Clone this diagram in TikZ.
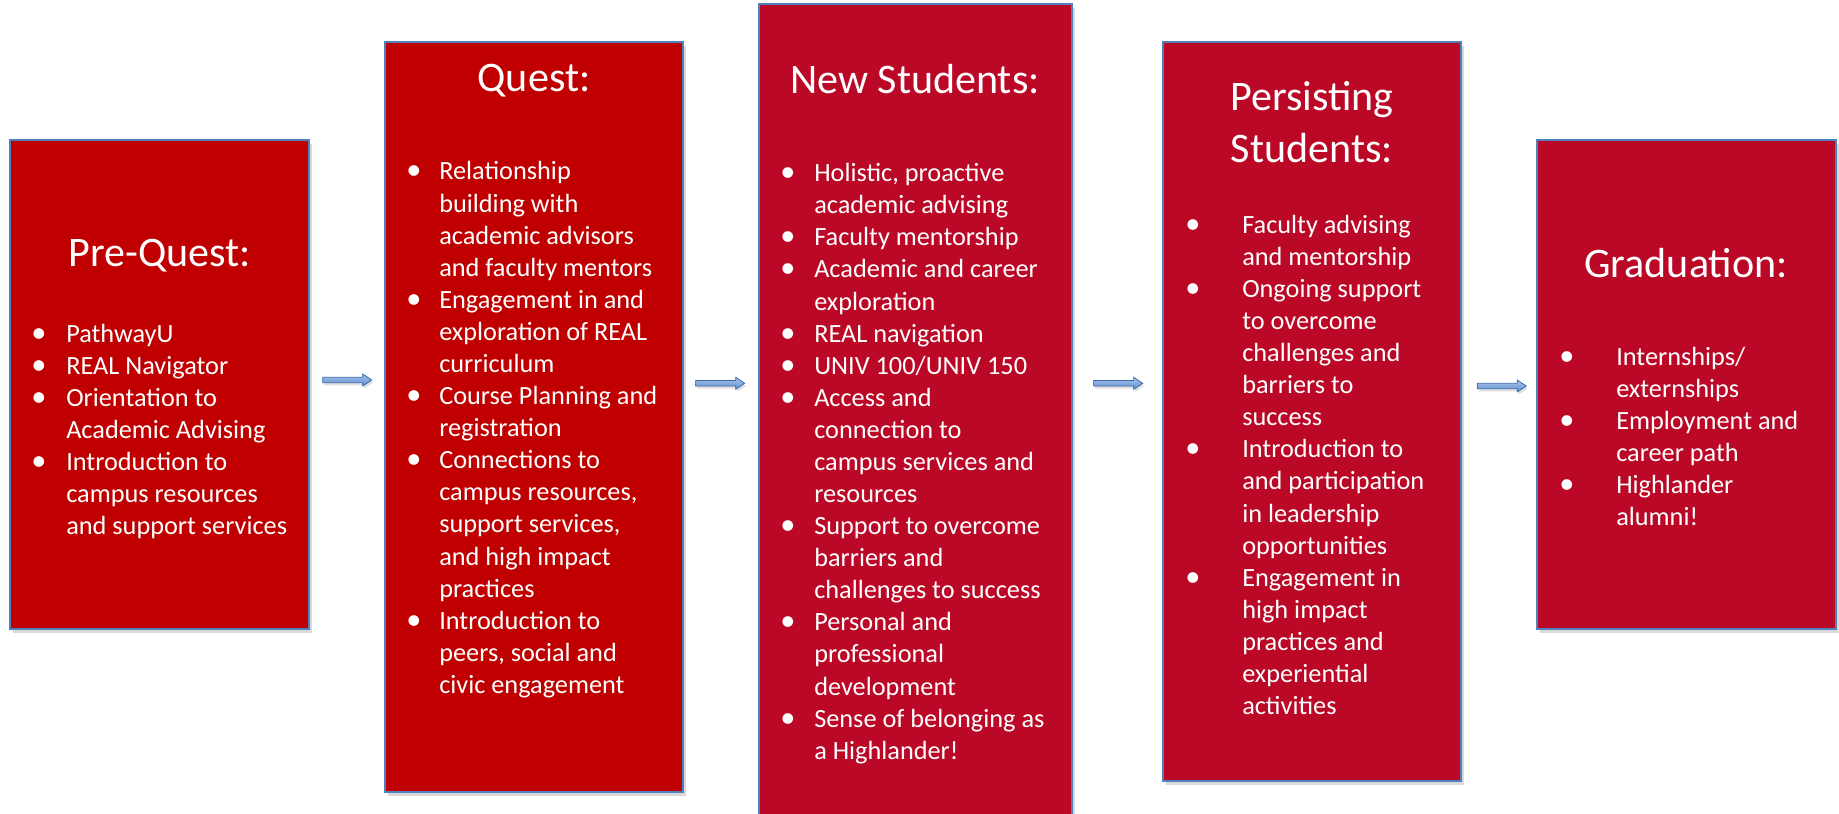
\documentclass[tikz,border=0pt]{standalone}
\usepackage{fontspec}
\setmainfont{Carlito}
\usetikzlibrary{shadows,fit}
\newdimen\px \px=0.7605pt
\definecolor{redA}{RGB}{192,0,0}
\definecolor{redB}{RGB}{186,8,38}
\definecolor{edgeblue}{RGB}{79,129,189}
\definecolor{arrfill}{RGB}{95,145,212}
\definecolor{arredge}{RGB}{60,105,170}
\newcommand\blist[2]{\begin{tabular}[t]{@{}p{#1}@{}l@{}}#2\end{tabular}}
\newcommand\bu{\scalebox{1.15}{\textbullet}}
\newcommand\blockarrow[1]{%
  \draw[flow] (#1) ++(-24.5,-2.7) -- ++(40,0) -- ++(0,-3.3) -- ++(9,6) -- ++(-9,6)
    -- ++(0,-3.3) -- ++(-40,0) -- cycle;}
\begin{document}
\begin{tikzpicture}[x=0.7605pt,y=-0.7605pt,
  box/.style={draw=edgeblue, line width=1.2pt, inner sep=0pt,
    drop shadow={shadow xshift=2pt, shadow yshift=-3pt, opacity=0.3}},
  title/.style={text=white, font=\fontsize{32}{39}\selectfont, inner sep=0pt, anchor=base},
  body/.style={text=white, font=\fontsize{20}{24.4}\selectfont, inner sep=0pt, anchor=base west},
  flow/.style={draw=arredge, line width=0.6pt, line join=miter,
    top color=arrfill!55!white, bottom color=arrfill,
    drop shadow={shadow xshift=1pt, shadow yshift=-2pt, opacity=0.25}}]
\useasboundingbox (0,0) rectangle (1839,814);

% boxes
\node[box, fill=redA, fit={(10,140) (309,629)}] (b1) {};
\node[box, fill=redA, fit={(385,42) (683,792)}] (b2) {};
\node[box, fill=redB, fit={(759,4) (1072,815)}] (b3) {};
\node[box, fill=redB, fit={(1163,42) (1461,781)}] (b4) {};
\node[box, fill=redB, fit={(1537,140) (1836,629)}] (b5) {};

% arrows (centres between the boxes)
\coordinate (a1) at (347.2,380);
\coordinate (a2) at (720.2,383.3);
\coordinate (a3) at (1118.2,383.3);
\coordinate (a4) at (1501.7,386);
\blockarrow{a1}
\blockarrow{a2}
\blockarrow{a3}
\blockarrow{a4}

% titles
\node[title] (t1) at (159.5,266.7) {Pre-Quest:};
\node[title] (t2) at (534,91.7) {Quest:};
\node[title] (t3) at (915,93.3) {New Students:};
\node[title] (t4) at (1312,111) {\begin{tabular}[t]{@{}c@{}}Persisting\\Students:\end{tabular}};
\node[title] (t5) at (1686,277.7) {Graduation:};

% bodies
\node[body] (l1) at (31,342.3) {\blist{35\px}{%
\bu & PathwayU\\
\bu & REAL Navigator\\
\bu & Orientation to\\
    & Academic Advising\\
\bu & Introduction to\\
    & campus resources\\
    & and support services}};

\node[body] (l2) at (406,180) {\blist{33\px}{%
\bu & Relationship\\
    & building with\\
    & academic advisors\\
    & and faculty mentors\\
\bu & Engagement in and\\
    & exploration of REAL\\
    & curriculum\\
\bu & Course Planning and\\
    & registration\\
\bu & Connections to\\
    & campus resources,\\
    & support services,\\
    & and high impact\\
    & practices\\
\bu & Introduction to\\
    & peers, social and\\
    & civic engagement}};

\node[body] (l3) at (780,181.7) {\blist{34\px}{%
\bu & Holistic, proactive\\
    & academic advising\\
\bu & Faculty mentorship\\
\bu & Academic and career\\
    & exploration\\
\bu & REAL navigation\\
\bu & UNIV 100/UNIV 150\\
\bu & Access and\\
    & connection to\\
    & campus services and\\
    & resources\\
\bu & Support to overcome\\
    & barriers and\\
    & challenges to success\\
\bu & Personal and\\
    & professional\\
    & development\\
\bu & Sense of belonging as\\
    & a Highlander!}};

\node[body] (l4) at (1185,233.3) {\blist{57\px}{%
\bu & Faculty advising\\
    & and mentorship\\
\bu & Ongoing support\\
    & to overcome\\
    & challenges and\\
    & barriers to\\
    & success\\
\bu & Introduction to\\
    & and participation\\
    & in leadership\\
    & opportunities\\
\bu & Engagement in\\
    & high impact\\
    & practices and\\
    & experiential\\
    & activities}};

\node[body] (l5) at (1559,365) {\blist{57\px}{%
\bu & Internships/\\
    & externships\\
\bu & Employment and\\
    & career path\\
\bu & Highlander\\
    & alumni!}};
\end{tikzpicture}
\end{document}
